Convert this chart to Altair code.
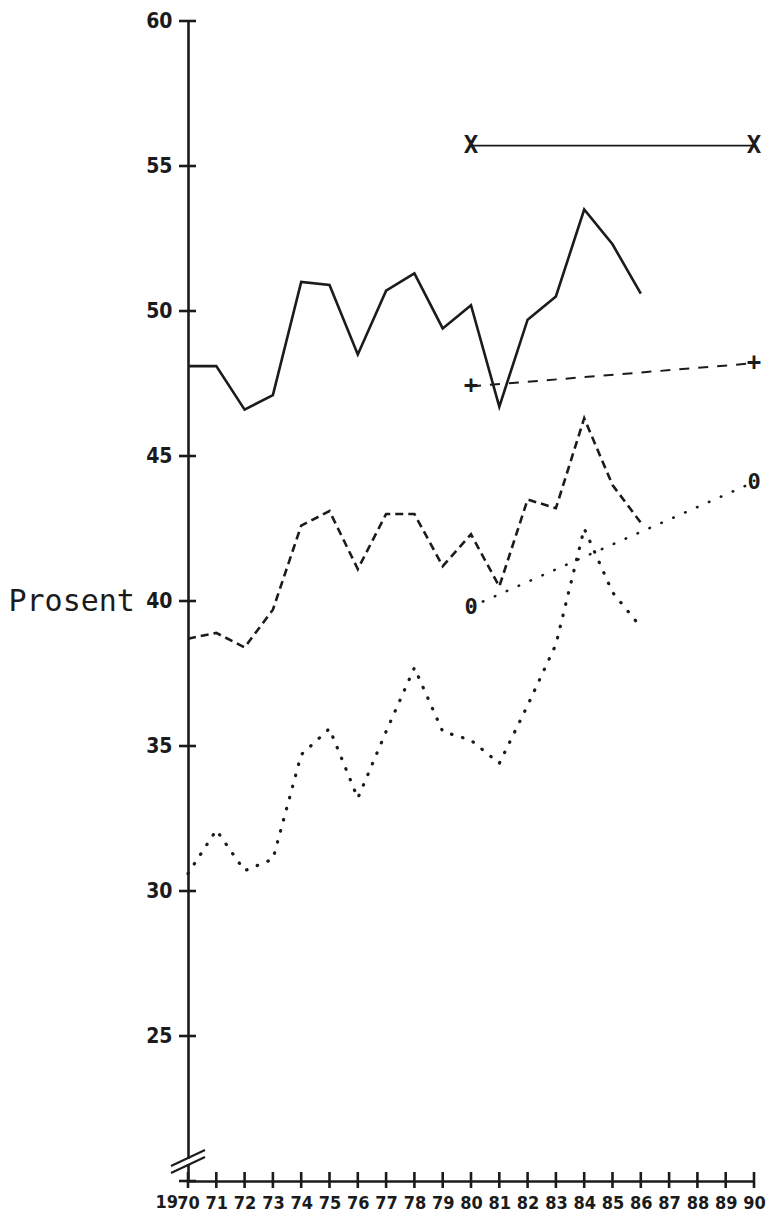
import altair as alt
import pandas as pd

# ---- data ----
years = list(range(1970, 1987))
solid_vals = [48.1, 48.1, 46.6, 47.1, 51.0, 50.9, 48.5, 50.7, 51.3, 49.4, 50.2, 46.7, 49.7, 50.5, 53.5, 52.3, 50.6]
dashed_vals = [38.7, 38.9, 38.4, 39.7, 42.6, 43.1, 41.1, 43.0, 43.0, 41.2, 42.3, 40.5, 43.5, 43.2, 46.3, 44.0, 42.7]
dotted_vals = [30.6, 32.1, 30.7, 31.1, 34.7, 35.6, 33.2, 35.5, 37.7, 35.5, 35.2, 34.4, 36.4, 38.5, 42.5, 40.3, 39.1]

goal_years = [1980, 1990]
goal_x_vals = [55.7, 55.7]
goal_plus_vals = [47.4, 48.2]
goal_o_vals = [39.8, 44.1]
goal_symbols = ["X", "+", "0"]

x_tick_years = list(range(1970, 1991))
y_tick_values = [20, 25, 30, 35, 40, 45, 50, 55, 60]
y_label_values = [25, 30, 35, 40, 45, 50, 55, 60]
y_title = "Prosent"
century_prefix = "19"

# ---- layout / style ----
W, H = 566, 1160
INK = "#1b1b1b"
LABEL_FONT = "DejaVu Sans Condensed"
MONO = "DejaVu Sans Mono"
XLAB_PAD = 13

xscale = alt.Scale(domain=[1970, 1990], nice=False, zero=False)
yscale = alt.Scale(domain=[20, 60], nice=False, zero=False)

xaxis = alt.Axis(values=x_tick_years, labelExpr="toString(datum.value - 1900)",
                 ticks=False, tickSize=0, grid=False, domainColor=INK, domainWidth=2.6,
                 labelFont=LABEL_FONT, labelFontSize=18, labelFontWeight="bold",
                 labelColor=INK, labelPadding=XLAB_PAD, labelFlush=False, labelOverlap=False,
                 labelBaseline="top", title=None)
yaxis = alt.Axis(values=y_label_values, ticks=False, tickSize=0, grid=False,
                 domainColor=INK, domainWidth=2.6,
                 labelFont=LABEL_FONT, labelFontSize=21, labelFontWeight="bold",
                 labelColor=INK, labelPadding=16, labelFlush=False, labelOverlap=False,
                 title=y_title, titleAngle=0, titleFont=MONO, titleFontSize=30,
                 titleFontWeight="normal", titleColor=INK, titleAlign="left",
                 titleBaseline="middle", titleX=-180, titleY=H / 2)

series_df = pd.DataFrame({"year": years, "solid": solid_vals,
                          "dashed": dashed_vals, "dotted": dotted_vals})
goal_df = pd.DataFrame({"year": goal_years, "gx": goal_x_vals,
                        "gplus": goal_plus_vals, "go": goal_o_vals})
bold_marker_df = pd.DataFrame({
    "year": goal_years * 2,
    "value": goal_x_vals + goal_plus_vals,
    "sym": [goal_symbols[0]] * 2 + [goal_symbols[1]] * 2,
})
o_marker_df = pd.DataFrame({"year": goal_years, "value": goal_o_vals,
                            "sym": [goal_symbols[2]] * 2})
xt_df = pd.DataFrame({"yr": x_tick_years})
yt_df = pd.DataFrame({"v": y_tick_values})
prefix_df = pd.DataFrame({"yr": [x_tick_years[0]], "t": [century_prefix]})


def X(field):
    return alt.X(f"{field}:Q", scale=xscale, axis=xaxis)


def Y(field):
    return alt.Y(f"{field}:Q", scale=yscale, axis=yaxis)


base = alt.Chart(series_df)
solid = base.mark_line(color=INK, strokeWidth=2.6).encode(x=X("year"), y=Y("solid"))
dashed = base.mark_line(color=INK, strokeWidth=2.6, strokeDash=[8, 5]).encode(
    x=X("year"), y=Y("dashed"))
dotted = base.mark_line(color=INK, strokeWidth=3.2, strokeDash=[0.5, 11],
                        strokeCap="round").encode(x=X("year"), y=Y("dotted"))

gbase = alt.Chart(goal_df)
g_x = gbase.mark_line(color=INK, strokeWidth=1.8).encode(x=X("year"), y=Y("gx"))
g_plus = gbase.mark_line(color=INK, strokeWidth=2, strokeDash=[10, 9]).encode(
    x=X("year"), y=Y("gplus"))
g_o = gbase.mark_line(color=INK, strokeWidth=2.6, strokeDash=[0.5, 12.5],
                      strokeCap="round").encode(x=X("year"), y=Y("go"))

bold_markers = alt.Chart(bold_marker_df).mark_text(
    font=MONO, fontSize=24, fontWeight="bold", color=INK,
    align="center", baseline="middle").encode(x=X("year"), y=Y("value"), text="sym:N")
o_markers = alt.Chart(o_marker_df).mark_text(
    font=MONO, fontSize=22, fontWeight="bold", color=INK,
    align="center", baseline="middle").encode(x=X("year"), y=Y("value"), text="sym:N")

# crossing ticks on both axes
yticks = alt.Chart(yt_df).mark_rule(color=INK, strokeWidth=2.6).encode(
    y=Y("v"), x=alt.value(-9), x2=alt.value(8))
xticks = alt.Chart(xt_df).mark_rule(color=INK, strokeWidth=2.6).encode(
    x=X("yr"), y=alt.value(H - 9), y2=alt.value(H + 7))

# "19" in front of the first year label
prefix = alt.Chart(prefix_df).mark_text(font=LABEL_FONT, fontSize=18, fontWeight="bold",
                                        color=INK, align="right", baseline="top",
                                        dx=-10).encode(
    x=X("yr"), y=alt.value(H + XLAB_PAD), text="t:N")

# axis break on the value axis
gap = alt.Chart(prefix_df).mark_rule(color="white", strokeWidth=6).encode(
    x=alt.value(0), y=alt.value(H - 22), y2=alt.value(H - 17))
brk1 = alt.Chart(prefix_df).mark_rule(color=INK, strokeWidth=2).encode(
    x=alt.value(-17), y=alt.value(H - 15), x2=alt.value(17), y2=alt.value(H - 31))
brk2 = alt.Chart(prefix_df).mark_rule(color=INK, strokeWidth=2).encode(
    x=alt.value(-17), y=alt.value(H - 8), x2=alt.value(17), y2=alt.value(H - 24))

chart = alt.layer(
    solid, dashed, dotted, g_x, g_plus, g_o, bold_markers, o_markers,
    yticks, xticks, prefix, gap, brk1, brk2
).properties(
    width=W, height=H,
    autosize=alt.AutoSizeParams(type="none"),
    padding={"left": 180, "top": 13, "right": 16, "bottom": 35},
    background="white",
).configure_view(stroke=None)

chart.save("out.html", embed_options={"renderer": "svg", "actions": False})
